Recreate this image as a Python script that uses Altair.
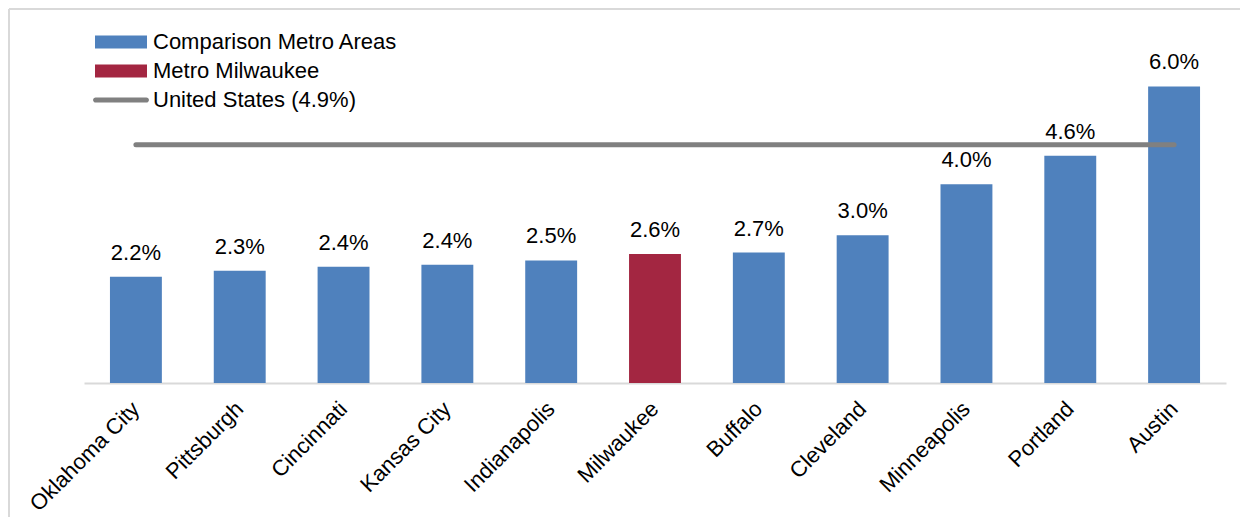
import altair as alt
import pandas as pd

cities = ["Oklahoma City", "Pittsburgh", "Cincinnati", "Kansas City", "Indianapolis",
          "Milwaukee", "Buffalo", "Cleveland", "Minneapolis", "Portland", "Austin"]
values = [2.15, 2.27, 2.35, 2.39, 2.48, 2.61, 2.64, 2.99, 4.02, 4.60, 6.00]
labels = ["2.2%", "2.3%", "2.4%", "2.4%", "2.5%", "2.6%", "2.7%", "3.0%", "4.0%", "4.6%", "6.0%"]
groups = ["Comparison Metro Areas"] * 5 + ["Metro Milwaukee"] + ["Comparison Metro Areas"] * 5
us_value = 4.82
legend_names = ["Comparison Metro Areas", "Metro Milwaukee", "United States (4.9%)"]
legend_colors = ["#4F81BD", "#A32641", "#808080"]

FONT = "Liberation Sans"

df = pd.DataFrame({"city": cities, "value": values, "label": labels, "group": groups})
us_df = pd.DataFrame({"start": [cities[0]], "end": [cities[-1]], "value": [us_value]})
leg_df = pd.DataFrame({"group": legend_names})

color_scale = alt.Scale(domain=legend_names, range=legend_colors)
x_scale = alt.Scale(domain=cities, paddingInner=0.5, paddingOuter=0.25)
y_scale = alt.Scale(domain=[0, 7])

rect_path = "M-2,-0.5H2V0.5H-2Z"
line_path = "M-1.95,-0.2H1.95A0.2,0.2 0 0 1 1.95,0.2H-1.95A0.2,0.2 0 0 1 -1.95,-0.2Z"
shape_scale = alt.Scale(domain=legend_names, range=[rect_path, rect_path, line_path])

leg_props = dict(title=None, orient="none", legendX=24, legendY=-8,
                 labelFontSize=22, labelFont=FONT, labelColor="#000000", labelLimit=0,
                 labelOffset=19, rowPadding=5, symbolOpacity=1,
                 symbolStrokeWidth=0, symbolSize=676, padding=0)

base = alt.Chart(df)

bars = base.mark_bar().encode(
    x=alt.X("city:N", sort=cities, scale=x_scale,
            axis=alt.Axis(title=None, ticks=False, labelAngle=-45, labelAlign="right",
                          labelBaseline="middle", labelPadding=22, labelFontSize=22,
                          labelFont=FONT, labelColor="#000000", domainColor="#d9d9d9",
                          domainWidth=2)),
    y=alt.Y("value:Q", scale=y_scale, axis=None),
    color=alt.Color("group:N", scale=color_scale, legend=alt.Legend(**leg_props)),
)

text = base.mark_text(baseline="alphabetic", dy=-17, fontSize=22, font=FONT, color="#000000").encode(
    x=alt.X("city:N", sort=cities),
    y=alt.Y("value:Q"),
    text="label:N",
)

us_rule = alt.Chart(us_df).mark_rule(color="#808080", strokeWidth=5, strokeCap="round").encode(
    x=alt.X("start:N", sort=cities, bandPosition=0.5),
    x2=alt.X2("end:N", bandPosition=0.5),
    y=alt.Y("value:Q"),
)

legend_layer = alt.Chart(leg_df).mark_point(filled=True, opacity=0, size=676).encode(
    x=alt.value(0),
    y=alt.value(0),
    color=alt.Color("group:N", scale=color_scale, legend=alt.Legend(**leg_props)),
    shape=alt.Shape("group:N", scale=shape_scale, legend=alt.Legend(**leg_props)),
)

frame_top = alt.Chart(leg_df).mark_rule(color="#d9d9d9", strokeWidth=2).encode(
    x=alt.value(-75), x2=alt.value(1156), y=alt.value(-28)
)
frame_left = alt.Chart(leg_df).mark_rule(color="#d9d9d9", strokeWidth=2).encode(
    x=alt.value(-75), y=alt.value(-28), y2=alt.value(480)
)

chart = alt.layer(frame_top, frame_left, bars, us_rule, text, legend_layer).properties(
    width=1142, height=346, padding=0, background="white"
).configure_view(stroke=None)

chart.save("out.html", embed_options={"renderer": "svg", "actions": False})
